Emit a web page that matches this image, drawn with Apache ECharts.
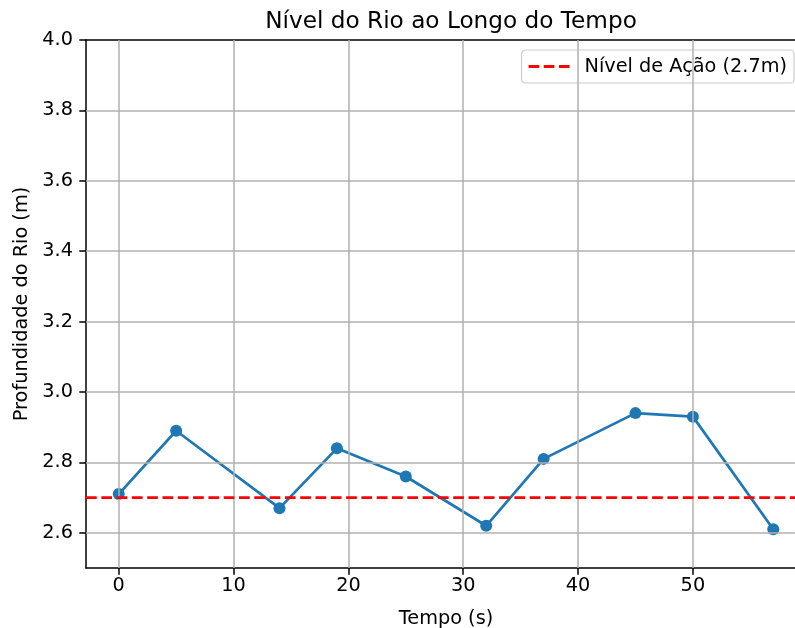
<!DOCTYPE html>
<html>
<head>
<meta charset="utf-8">
<script src="https://cdn.jsdelivr.net/npm/echarts@6/dist/echarts.min.js"></script>
<style>html,body{margin:0;padding:0;background:#fff}#c{width:795px;height:628px}</style>
</head>
<body>
<div id="c"></div>
<script>
var timeS = [0, 5, 14, 19, 25, 32, 37, 45, 50, 57];
var depthM = [2.71, 2.89, 2.67, 2.84, 2.76, 2.62, 2.81, 2.94, 2.93, 2.61];
var actionLevel = 2.7;
var xTicks = [0, 10, 20, 30, 40, 50];
var yTicks = [2.6, 2.8, 3.0, 3.2, 3.4, 3.6, 3.8, 4.0];
var xMin = -2.85, xMax = 59.85, yMin = 2.5, yMax = 4.0;

var chart = echarts.init(document.getElementById('c'), null, {renderer: 'canvas'});
var font = 'DejaVu Sans';
var fs = 19.3;
var axisCommon = {
  axisLine: {show: true, onZero: false, lineStyle: {color: '#000', width: 1.5}},
  axisTick: {show: true, inside: false, length: 6.7, lineStyle: {color: '#000', width: 1.5}},
  splitLine: {show: false},
  nameTextStyle: {fontFamily: font, fontSize: fs, color: '#000'}
};
chart.setOption({
  animation: false,
  backgroundColor: '#fff',
  title: {
    text: 'Nível do Rio ao Longo do Tempo',
    left: 446, top: 5, textAlign: 'center',
    textStyle: {fontFamily: font, fontSize: 23.2, fontWeight: 'normal', color: '#000'}
  },
  legend: {
    right: 1, top: 50,
    data: [{name: 'Nível de Ação (2.7m)',
      icon: 'path://M0,0h10.7v2.9h-10.7z M15.3,0h10.7v2.9h-10.7z M30.6,0h10.7v2.9h-10.7z'}],
    itemWidth: 41, itemHeight: 3, itemGap: 8,
    padding: [7, 7, 7, 7],
    borderColor: '#cccccc', borderWidth: 1.2, borderRadius: 4,
    backgroundColor: 'rgba(255,255,255,0.8)',
    textStyle: {fontFamily: font, fontSize: fs, color: '#000', padding: [0, 0, 0, 10]}
  },
  grid: {left: 86, top: 40, width: 720, height: 528, containLabel: false, outerBoundsMode: 'none'},
  xAxis: [
    Object.assign({}, axisCommon, {
      type: 'value', min: xMin, max: xMax, position: 'bottom',
      name: 'Tempo (s)', nameLocation: 'middle', nameGap: 41,
      axisTick: Object.assign({}, axisCommon.axisTick, {customValues: xTicks}),
      axisLabel: {customValues: xTicks, fontFamily: font, fontSize: fs, color: '#000', margin: 8}
    }),
    {
      type: 'value', min: xMin, max: xMax, position: 'top',
      axisLine: {show: true, onZero: false, lineStyle: {color: '#000', width: 1.5}},
      axisTick: {show: false}, axisLabel: {show: false}, splitLine: {show: false}
    }
  ],
  yAxis: Object.assign({}, axisCommon, {
    type: 'value', min: yMin, max: yMax,
    name: 'Profundidade do Rio (m)', nameLocation: 'middle', nameGap: 54,
    axisTick: Object.assign({}, axisCommon.axisTick, {customValues: yTicks}),
    axisLabel: {customValues: yTicks, fontFamily: font, fontSize: fs, color: '#000', margin: 13,
      formatter: function (v) { return v.toFixed(1); }}
  }),
  series: [
    {
      name: 'grid', type: 'line', data: [], silent: true,
      markLine: {
        silent: true, symbol: 'none', label: {show: false},
        lineStyle: {color: '#b0b0b0', width: 1.5, type: 'solid'},
        data: xTicks.map(function (v) { return {xAxis: v}; })
          .concat(yTicks.filter(function (v) { return v < yMax; }).map(function (v) { return {yAxis: v}; }))
      },
      z: 1
    },
    {
      name: 'Profundidade', type: 'line',
      data: timeS.map(function (t, i) { return [t, depthM[i]]; }),
      symbol: 'circle', symbolSize: 12,
      lineStyle: {color: '#1f77b4', width: 2.7},
      itemStyle: {color: '#1f77b4'},
      z: 4
    },
    {
      name: 'Nível de Ação (2.7m)', type: 'line',
      data: [[xMin, actionLevel], [xMax, actionLevel]],
      showSymbol: false, symbol: 'none',
      lineStyle: {color: '#ff0000', width: 2.8, type: [10.7, 4.6]},
      itemStyle: {color: '#ff0000'},
      z: 5
    }
  ]
});
</script>
</body>
</html>
